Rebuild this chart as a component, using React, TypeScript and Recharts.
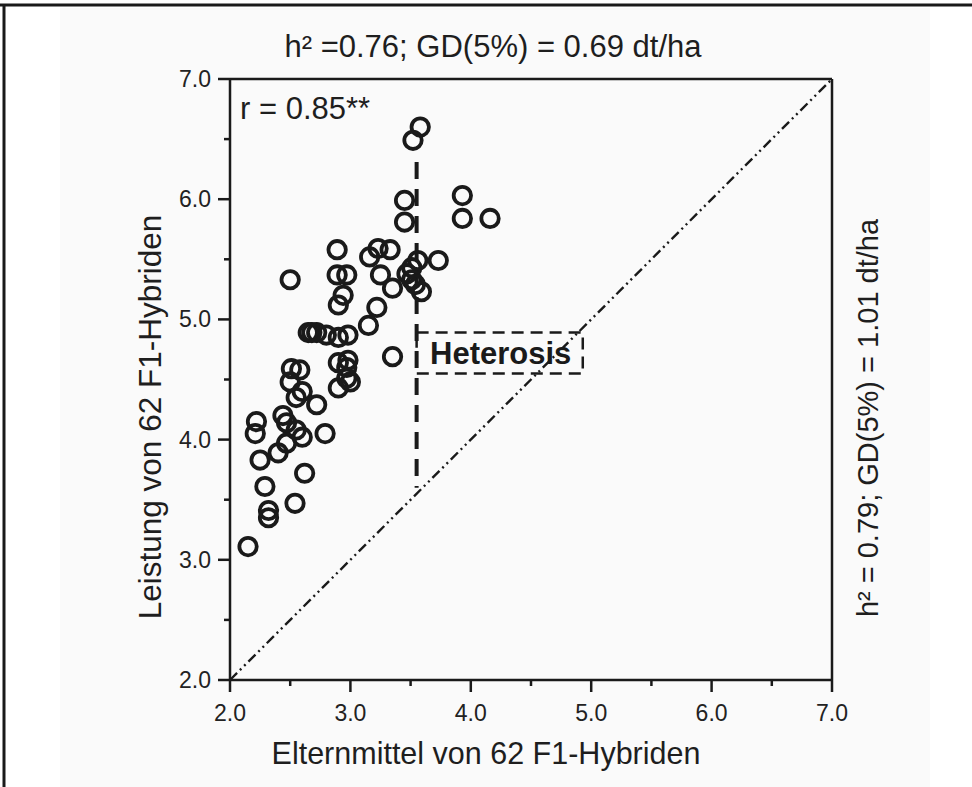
import React from 'react';
import {
  ScatterChart,
  Scatter,
  XAxis,
  YAxis,
  ReferenceLine,
  ReferenceArea,
} from 'recharts';

// Elternmittel (x) und Leistung der F1-Hybriden (y), dt/ha
const parentMean = [
  3.58, 3.52, 3.45, 3.45, 3.93, 3.93, 4.16, 2.89, 3.23, 3.33,
  3.16, 3.56, 3.73, 3.51, 3.47, 3.25, 2.89, 2.97, 2.50, 3.51,
  3.59, 3.54, 3.35, 2.94, 2.90, 3.22, 3.15, 2.65, 2.72, 2.80,
  2.90, 2.98, 3.35, 2.51, 2.58, 2.90, 2.98, 2.50, 2.60, 2.55,
  2.72, 2.97, 3.00, 2.90, 2.97, 2.22, 2.21, 2.44, 2.47, 2.55,
  2.60, 2.79, 2.47, 2.40, 2.25, 2.62, 2.29, 2.32, 2.32, 2.54,
  2.15, 2.68,
];
const hybridYield = [
  6.60, 6.49, 5.99, 5.81, 6.03, 5.84, 5.84, 5.58, 5.59, 5.58,
  5.52, 5.49, 5.49, 5.43, 5.38, 5.37, 5.37, 5.37, 5.33, 5.33,
  5.23, 5.29, 5.26, 5.20, 5.12, 5.10, 4.95, 4.89, 4.89, 4.87,
  4.85, 4.87, 4.69, 4.59, 4.58, 4.64, 4.66, 4.48, 4.40, 4.35,
  4.29, 4.60, 4.48, 4.43, 4.51, 4.15, 4.05, 4.20, 4.14, 4.08,
  4.02, 4.05, 3.97, 3.89, 3.83, 3.72, 3.61, 3.41, 3.35, 3.47,
  3.11, 4.89,
];

const axisTicks = [2, 2.5, 3, 3.5, 4, 4.5, 5, 5.5, 6, 6.5, 7];
const axisDomain = [2, 7];

// Heterosis-Markierung
const heterosisX = 3.55;
const heterosisLine = [6.31, 3.6];
const heterosisBox = { x1: 3.55, x2: 4.93, y1: 4.55, y2: 4.89 };

const data = parentMean.map((x, i) => ({ x, y: hybridYield[i] }));

const INK = '#1a1a1a';
const FONT = '"Liberation Sans", Arial, Helvetica, sans-serif';

const OpenCircle = (props: any) => (
  <circle cx={props.cx} cy={props.cy} r={8.7} fill="none" stroke={INK} strokeWidth={3.8} />
);

const XTick = ({ x, y, payload }: any) => {
  const major = Number.isInteger(payload.value);
  return (
    <g>
      <line x1={x} x2={x} y1={y} y2={y + (major ? 12 : 6)} stroke={INK} strokeWidth={2.5} />
      {major && (
        <text x={x} y={y + 41} textAnchor="middle" fontSize={23} fill="#222" fontFamily={FONT}>
          {payload.value.toFixed(1)}
        </text>
      )}
    </g>
  );
};

const YTick = ({ x, y, payload }: any) => {
  const major = Number.isInteger(payload.value);
  return (
    <g>
      <line x1={x - (major ? 12 : 6)} x2={x} y1={y} y2={y} stroke={INK} strokeWidth={2.5} />
      {major && (
        <text x={x - 19} y={y + 8} textAnchor="end" fontSize={23} fill="#222" fontFamily={FONT}>
          {payload.value.toFixed(1)}
        </text>
      )}
    </g>
  );
};

const HeterosisLabel = ({ viewBox }: any) => (
  <text
    x={viewBox.x + viewBox.width / 2 + 1}
    y={viewBox.y + viewBox.height / 2 + 11}
    textAnchor="middle"
    fontSize={31}
    fontWeight="bold"
    fill={INK}
    fontFamily={FONT}
  >
    Heterosis
  </text>
);

export default function App() {
  return (
    <div style={{ position: 'absolute', left: 0, top: 0, width: 972, height: 787, background: '#ffffff' }}>
      {/* Rahmen und Hintergrund */}
      <svg width={972} height={787} style={{ position: 'absolute', left: 0, top: 0 }}>
        <rect x={60} y={8} width={870} height={779} fill="#fafafa" />
        <line x1={0} x2={972} y1={5} y2={5} stroke={INK} strokeWidth={3} />
        <line x1={4} x2={4} y1={5} y2={787} stroke={INK} strokeWidth={3} />
      </svg>

      <div style={{ position: 'absolute', left: 0, top: 0 }}>
        <ScatterChart width={972} height={787} margin={{ top: 79, right: 140, bottom: 67, left: 170 }}>
          <XAxis
            type="number"
            dataKey="x"
            domain={axisDomain}
            ticks={axisTicks}
            interval={0}
            height={40}
            tickSize={0}
            tickMargin={0}
            tickLine={false}
            tick={<XTick />}
            axisLine={{ stroke: INK, strokeWidth: 2.5 }}
            allowDataOverflow
          />
          <YAxis
            type="number"
            dataKey="y"
            domain={axisDomain}
            ticks={axisTicks}
            interval={0}
            width={60}
            tickSize={0}
            tickMargin={0}
            tickLine={false}
            tick={<YTick />}
            axisLine={{ stroke: INK, strokeWidth: 2.5 }}
            allowDataOverflow
          />
          <ReferenceLine y={7} stroke={INK} strokeWidth={2.5} />
          <ReferenceLine x={7} stroke={INK} strokeWidth={2.5} />
          <ReferenceLine
            segment={[{ x: 2, y: 2 }, { x: 7, y: 7 }]}
            stroke={INK}
            strokeWidth={2.4}
            strokeDasharray="10 4 2 4 2 4"
          />
          <ReferenceLine
            segment={[{ x: heterosisX, y: heterosisLine[0] }, { x: heterosisX, y: heterosisLine[1] }]}
            stroke={INK}
            strokeWidth={4}
            strokeDasharray="17 10"
          />
          <ReferenceArea
            x1={heterosisBox.x1}
            x2={heterosisBox.x2}
            y1={heterosisBox.y1}
            y2={heterosisBox.y2}
            fill="none"
            fillOpacity={0}
            stroke={INK}
            strokeWidth={2.5}
            strokeDasharray="12 7"
            label={<HeterosisLabel />}
          />
          <Scatter data={data} shape={<OpenCircle />} isAnimationActive={false} />
        </ScatterChart>
      </div>

      {/* Beschriftungen */}
      <svg width={972} height={787} style={{ position: 'absolute', left: 0, top: 0, pointerEvents: 'none' }}>
        <g fontFamily={FONT} fill="#1e1e1e">
          <text x={493} y={57} textAnchor="middle" fontSize={31}>
            h² =0.76; GD(5%) = 0.69 dt/ha
          </text>
          <text x={240} y={119} fontSize={31}>
            r = 0.85**
          </text>
          <text x={486} y={764} textAnchor="middle" fontSize={30.5}>
            Elternmittel von 62 F1-Hybriden
          </text>
          <text x={161} y={417} textAnchor="middle" fontSize={31.5} transform="rotate(-90 161 417)">
            Leistung von 62 F1-Hybriden
          </text>
          <text x={878} y={418} textAnchor="middle" fontSize={29} transform="rotate(-90 878 418)">
            h² = 0.79; GD(5%) = 1.01 dt/ha
          </text>
        </g>
      </svg>
    </div>
  );
}
